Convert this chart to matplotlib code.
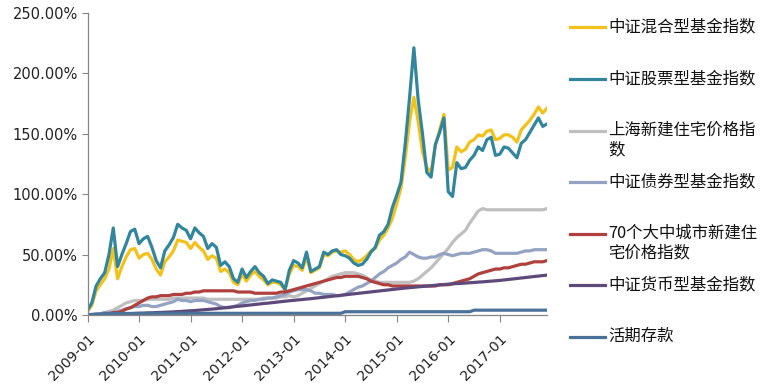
"""
Cumulative returns of fund indices, housing prices and deposits, 2009-01 to 2017-12.
"""

import matplotlib
matplotlib.use("Agg")
import matplotlib.pyplot as plt
from matplotlib.lines import Line2D
from matplotlib.ticker import FuncFormatter

plt.rcParams["font.family"] = ["Noto Sans CJK SC", "DejaVu Sans"]

# monthly, 2009-01 .. 2017-12 (cumulative %)
HYBRID = [
    3, 8, 20, 25, 30, 38, 55, 30, 40, 48, 54, 55,
    47, 50, 51, 46, 38, 33, 44, 48, 53, 62, 61, 60,
    55, 60, 56, 53, 46, 49, 47, 36, 38, 35, 27, 25,
    34, 28, 33, 36, 32, 29, 25, 27, 27, 25, 21, 34,
    41, 40, 37, 48, 35, 37, 39, 50, 49, 52, 53, 52,
    53, 50, 46, 44, 46, 49, 53, 55, 62, 66, 72, 80,
    92, 105, 130, 160, 180, 160, 135, 122, 118, 140, 153, 166,
    120, 122, 139, 135, 137, 143, 145, 149, 148, 152, 153, 145,
    146, 149, 149, 147, 143, 153, 157, 161, 166, 172, 167, 171,
]
EQUITY = [
    4, 10, 24, 30, 35, 50, 72, 40, 50, 59, 69, 71,
    59, 63, 65, 56, 45, 39, 53, 58, 64, 75, 72, 70,
    63, 72, 68, 65, 55, 59, 56, 41, 44, 40, 30, 27,
    38, 31, 36, 40, 35, 32, 26, 29, 28, 27, 21, 37,
    45, 43, 39, 52, 36, 38, 40, 52, 50, 53, 54, 50,
    49, 47, 43, 41, 42, 46, 52, 56, 66, 69, 75, 89,
    99, 110, 142, 180, 221, 178, 150, 118, 114, 141, 151, 163,
    102, 98, 126, 121, 122, 128, 132, 139, 136, 145, 147, 132,
    133, 139, 138, 134, 130, 142, 145, 151, 157, 163, 156, 158,
]
SH_HOUSING = [
    0, 0, 0, 1, 2, 3, 4, 6, 8, 10, 11, 12,
    12, 12, 13, 13, 13, 13, 13, 13, 14, 14, 14, 14,
    14, 14, 14, 14, 13, 13, 13, 13, 13, 13, 13, 13,
    13, 13, 13, 13, 13, 14, 14, 14, 14, 15, 15, 16,
    15, 16, 18, 20, 22, 24, 26, 28, 30, 32, 33, 34,
    35, 35, 35, 34, 33, 31, 29, 28, 27, 27, 27, 27,
    27, 27, 27, 27, 28, 30, 33, 36, 39, 43, 47, 51,
    55, 60, 64, 67, 70, 76, 81, 86, 88, 87, 87, 87,
    87, 87, 87, 87, 87, 87, 87, 87, 87, 87, 87, 88,
]
BOND = [
    0, 0, 1, 1, 2, 2, 2, 3, 4, 5, 6, 7,
    7, 8, 8, 7, 7, 8, 9, 10, 11, 13, 12, 12,
    11, 12, 12, 12, 11, 10, 9, 7, 6, 6, 7, 8,
    10, 11, 12, 12, 13, 13, 14, 14, 15, 16, 17, 19,
    20, 21, 21, 21, 20, 18, 18, 17, 17, 17, 16, 16,
    17, 19, 21, 23, 24, 26, 28, 31, 34, 36, 39, 41,
    43, 46, 48, 52, 50, 48, 47, 47, 48, 48, 50, 51,
    50, 49, 50, 51, 51, 51, 52, 53, 54, 54, 53, 51,
    51, 51, 51, 51, 51, 52, 53, 53, 54, 54, 54, 54,
]
CITY70 = [
    0, 0, 0, 0, 1, 1, 2, 2, 3, 5, 6, 8,
    10, 12, 14, 15, 15, 16, 16, 16, 17, 17, 17, 18,
    18, 19, 19, 20, 20, 20, 20, 20, 20, 20, 20, 19,
    19, 19, 19, 18, 18, 18, 18, 18, 18, 19, 19, 20,
    21, 22, 23, 24, 25, 26, 27, 28, 29, 30, 31, 31,
    32, 32, 32, 32, 31, 30, 28, 27, 26, 25, 25, 24,
    24, 24, 24, 24, 24, 24, 24, 24, 24, 24, 25, 25,
    25, 26, 27, 28, 29, 30, 32, 34, 35, 36, 37, 38,
    38, 39, 39, 40, 41, 42, 42, 43, 44, 44, 44, 45,
]
MONEY = [
    0, 0.1, 0.2, 0.3, 0.4, 0.5, 0.6, 0.7, 0.8, 1.0, 1.1, 1.3,
    1.4, 1.5, 1.7, 1.8, 2.0, 2.1, 2.3, 2.4, 2.6, 2.8, 3.0, 3.3,
    3.5, 3.7, 4.0, 4.3, 4.6, 4.9, 5.2, 5.6, 6.0, 6.4, 6.8, 7.2,
    7.5, 7.9, 8.3, 8.7, 9.1, 9.5, 9.8, 10.2, 10.6, 11.0, 11.4, 11.8,
    12.1, 12.5, 12.8, 13.2, 13.5, 13.9, 14.3, 14.7, 15.1, 15.5, 15.9, 16.3,
    16.7, 17.1, 17.5, 17.9, 18.3, 18.7, 19.1, 19.5, 19.9, 20.3, 20.7, 21.1,
    21.5, 21.9, 22.3, 22.6, 22.9, 23.3, 23.6, 23.9, 24.2, 24.6, 24.9, 25.2,
    25.5, 25.7, 26.0, 26.2, 26.4, 26.7, 26.9, 27.2, 27.4, 27.7, 28.0, 28.3,
    28.6, 29.0, 29.4, 29.8, 30.2, 30.6, 31.0, 31.4, 31.8, 32.2, 32.6, 33.0,
]
DEPOSIT = [
    0.3, 0.5, 0.7, 0.9, 1.0, 1.1, 1.2, 1.3, 1.3, 1.3, 1.3, 1.3,
    1.4, 1.4, 1.4, 1.4, 1.4, 1.4, 1.4, 1.4, 1.4, 1.4, 1.4, 1.4,
    1.4, 1.4, 1.4, 1.4, 1.4, 1.4, 1.4, 1.4, 1.4, 1.4, 1.4, 1.4,
    1.4, 1.4, 1.4, 1.4, 1.4, 1.4, 1.4, 1.4, 1.4, 1.4, 1.4, 1.4,
    1.4, 1.4, 1.4, 1.4, 1.4, 1.4, 1.4, 1.4, 1.4, 1.4, 1.4, 1.4,
    2.7, 2.7, 2.7, 2.7, 2.7, 2.7, 2.7, 2.7, 2.7, 2.7, 2.7, 2.7,
    2.7, 2.7, 2.7, 2.7, 2.7, 2.7, 2.7, 2.7, 2.7, 2.7, 2.7, 2.7,
    2.7, 2.7, 2.7, 2.7, 2.7, 2.7, 4.0, 4.0, 4.0, 4.0, 4.0, 4.0,
    4.0, 4.0, 4.0, 4.0, 4.0, 4.0, 4.0, 4.0, 4.0, 4.0, 4.0, 4.0,
]

SERIES = [HYBRID, EQUITY, SH_HOUSING, BOND, CITY70, MONEY, DEPOSIT]
LABELS = [
    "中证混合型基金指数",
    "中证股票型基金指数",
    "上海新建住宅价格指\n数",
    "中证债券型基金指数",
    "70个大中城市新建住\n宅价格指数",
    "中证货币型基金指数",
    "活期存款",
]
COLORS = ["#F2C21B", "#31859C", "#BFBFBF", "#94A3C2", "#B0403D", "#5E4A7A", "#4A7199"]

TICK_LABELS = ["2009-01", "2010-01", "2011-01", "2012-01", "2013-01",
               "2014-01", "2015-01", "2016-01", "2017-01"]

# legend row positions (px from top) of the first text line
LEG_Y = [27, 79, 131, 182, 234, 285, 337]


def main() -> None:
    W, H = 772, 391
    fig = plt.figure(figsize=(W / 100, H / 100), dpi=100)
    ax = fig.add_axes([87.5 / W, 1 - 315 / H, (547 - 87.5) / W, (315 - 12.7) / H])

    months = list(range(len(HYBRID)))
    for vals, col in zip(SERIES, COLORS):
        ax.plot(months, vals, color=col, linewidth=2.3, solid_joinstyle="round")

    ax.set_xlim(0, len(months) - 1)
    ax.set_ylim(0, 250)
    ax.set_yticks(range(0, 251, 50))
    ax.yaxis.set_major_formatter(FuncFormatter(lambda v, _: f"{v:.2f}%"))
    ax.set_xticks(range(0, 12 * len(TICK_LABELS), 12))
    ax.set_xticklabels(TICK_LABELS, rotation=45, ha="right", rotation_mode="anchor",
                       family=["DejaVu Sans"], fontsize=10.2)
    for t in ax.get_yticklabels():
        t.set_family(["DejaVu Sans"])
        t.set_fontsize(10.5)
        t.set_color("#222222")
    ax.tick_params(axis="x", length=5, width=0.8, color="#868686", pad=7, labelcolor="#222222")
    ax.tick_params(axis="y", length=4, width=0.8, color="#868686", pad=3)
    for s in ("top", "right"):
        ax.spines[s].set_visible(False)
    for s in ("left", "bottom"):
        ax.spines[s].set_color("#868686")
        ax.spines[s].set_linewidth(0.9)

    # legend drawn on the figure, to the right of the plot
    for y, lab, col in zip(LEG_Y, LABELS, COLORS):
        fy = 1 - y / H
        fig.add_artist(Line2D([570 / W, 605 / W], [fy, fy], color=col, linewidth=2.3,
                              transform=fig.transFigure))
        fig.text(608 / W, fy + 9 / H, lab, fontsize=11.8, va="top", ha="left",
                 color="#111111", linespacing=1.15)

    fig.savefig("out.png", dpi=100)
    plt.close(fig)


if __name__ == "__main__":
    main()
